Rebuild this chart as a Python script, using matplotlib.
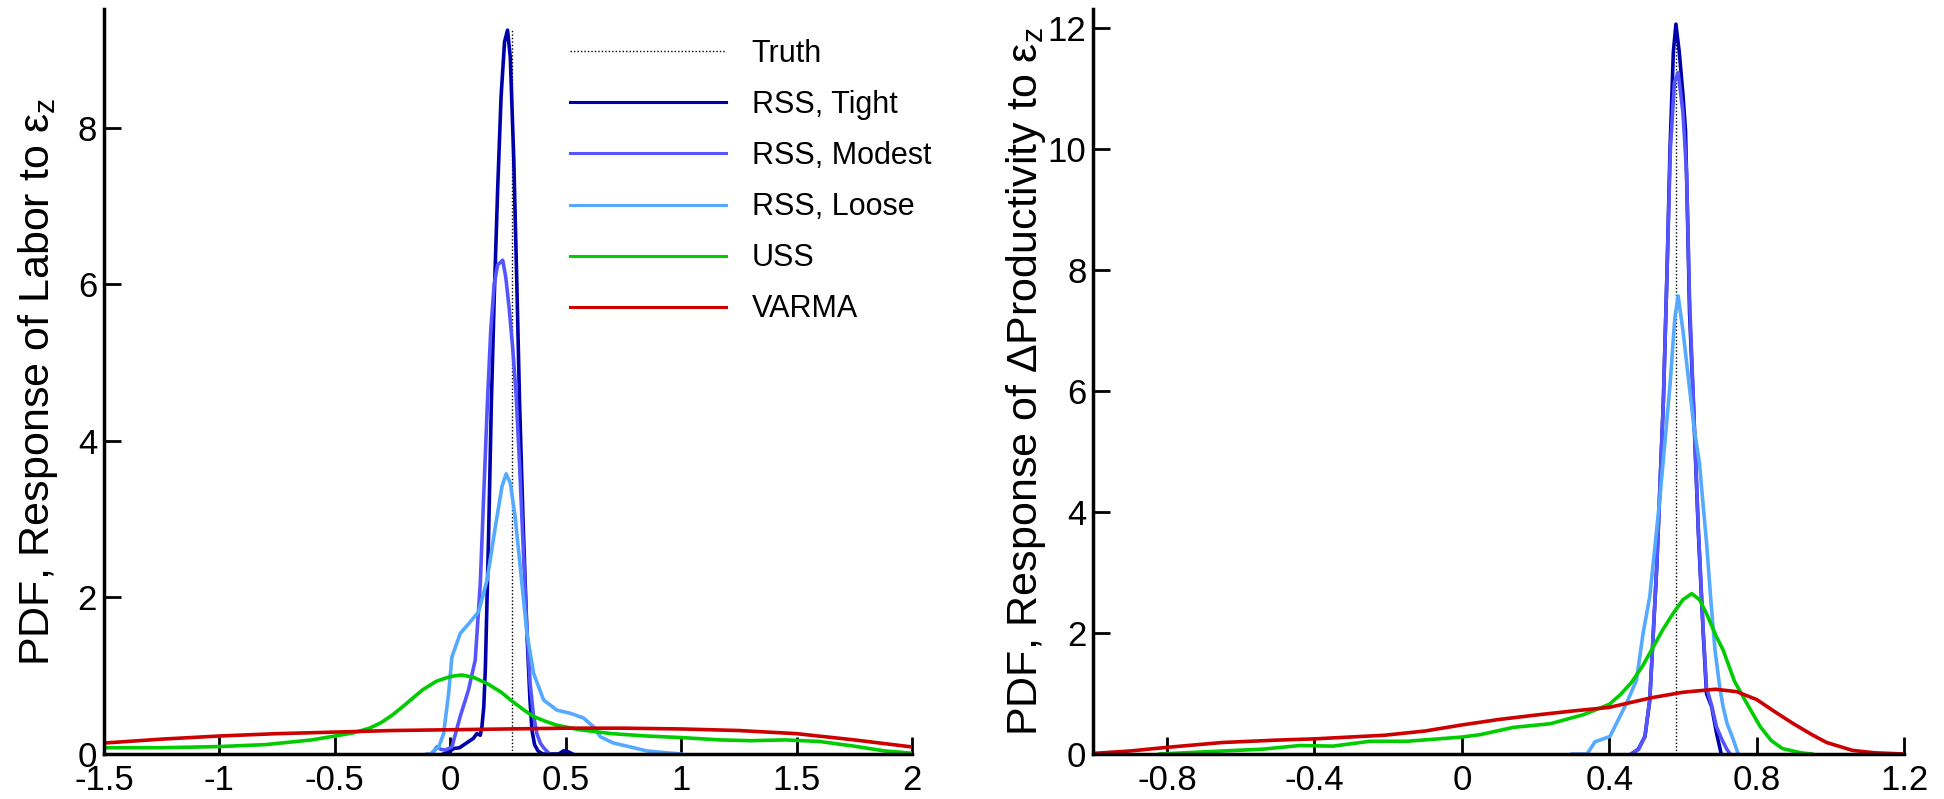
import matplotlib
matplotlib.use("Agg")
import matplotlib.pyplot as plt

plt.rcParams['font.family'] = ['Liberation Sans', 'DejaVu Sans']
plt.rcParams['mathtext.fontset'] = 'custom'
plt.rcParams['mathtext.rm'] = 'Liberation Sans'
plt.rcParams['mathtext.it'] = 'Liberation Sans'

SERIES = ["Truth", "RSS, Tight", "RSS, Modest", "RSS, Loose", "USS", "VARMA"]
COLORS = {"RSS, Tight": "#0000AA", "RSS, Modest": "#5555FF", "RSS, Loose": "#55AAFF",
          "USS": "#00CC00", "VARMA": "#CC0000"}

# ---------------- Left panel: Labor ----------------
L_TRUTH = 0.267
L_TRUTH_TOP = 9.25
L_TIGHT_X = [-0.03, 0.0, 0.015, 0.04, 0.07, 0.1, 0.115, 0.13, 0.137, 0.145, 0.152, 0.166, 0.178, 0.19,
             0.205, 0.22, 0.235, 0.248, 0.26, 0.275, 0.29, 0.3, 0.315, 0.332, 0.345, 0.354, 0.365, 0.38,
             0.4, 0.47, 0.49, 0.51, 0.53]
L_TIGHT_Y = [0.0, 0.04, 0.07, 0.08, 0.14, 0.2, 0.26, 0.24, 0.35, 0.6, 1.1, 2.8, 4.5, 5.8,
             7.2, 8.4, 9.1, 9.25, 8.9, 7.6, 5.8, 4.5, 3.0, 1.55, 0.7, 0.3, 0.12, 0.04,
             0.0, 0.0, 0.04, 0.03, 0.0]
L_MOD_X = [-0.08, -0.058, -0.04, -0.022, 0.007, 0.043, 0.079, 0.108, 0.13, 0.144, 0.161, 0.175, 0.19,
           0.205, 0.227, 0.24, 0.255, 0.27, 0.285, 0.3, 0.315, 0.33, 0.346, 0.36, 0.375, 0.39, 0.404, 0.43]
L_MOD_Y = [0.0, 0.09, 0.06, 0.05, 0.09, 0.48, 0.82, 1.2, 2.18, 3.25, 4.5, 5.4, 6.0,
           6.25, 6.31, 6.1, 5.7, 5.2, 4.6, 3.7, 2.7, 1.7, 0.9, 0.5, 0.26, 0.14, 0.08, 0.0]
L_LOOSE_X = [-0.1, -0.087, -0.05, -0.029, -0.007, 0.007, 0.043, 0.087, 0.123, 0.159, 0.195, 0.224,
             0.242, 0.26, 0.281, 0.303, 0.332, 0.361, 0.404, 0.462, 0.52, 0.577, 0.62, 0.65, 0.707,
             0.78, 0.85, 0.92, 1.0]
L_LOOSE_Y = [0.0, 0.0, 0.09, 0.26, 0.78, 1.24, 1.54, 1.69, 1.82, 2.22, 2.9, 3.42,
             3.58, 3.46, 3.03, 2.39, 1.54, 1.03, 0.69, 0.56, 0.52, 0.46, 0.35, 0.22, 0.14,
             0.09, 0.04, 0.02, 0.0]
L_USS_X = [-1.5, -1.25, -1.0, -0.8, -0.6, -0.5, -0.42, -0.35, -0.3, -0.25, -0.2, -0.12, -0.06, 0.0,
           0.05, 0.1, 0.16, 0.22, 0.27, 0.32, 0.36, 0.41, 0.46, 0.56, 0.7, 0.85, 1.0, 1.17, 1.3,
           1.45, 1.6, 1.75, 1.88, 2.0]
L_USS_Y = [0.08, 0.08, 0.095, 0.12, 0.18, 0.23, 0.27, 0.33, 0.4, 0.5, 0.62, 0.82, 0.93, 0.99,
           1.01, 0.98, 0.9, 0.79, 0.67, 0.56, 0.48, 0.42, 0.37, 0.31, 0.26, 0.23, 0.21, 0.18, 0.17,
           0.18, 0.16, 0.1, 0.04, 0.01]
L_VAR_X = [-1.5, -1.25, -1.0, -0.75, -0.5, -0.25, 0.0, 0.25, 0.5, 0.75, 1.0, 1.25, 1.5, 1.75, 2.0]
L_VAR_Y = [0.14, 0.19, 0.23, 0.26, 0.28, 0.3, 0.31, 0.32, 0.33, 0.33, 0.32, 0.3, 0.26, 0.18, 0.09]
L_XTICKS = [-1.5, -1, -0.5, 0, 0.5, 1, 1.5, 2]
L_XLABELS = ["-1.5", "-1", "-0.5", "0", "0.5", "1", "1.5", "2"]
L_YTICKS = [0, 2, 4, 6, 8]

# ---------------- Right panel: Productivity ----------------
R_TRUTH = 0.581
R_TRUTH_TOP = 12.06
R_TIGHT_X = [0.46, 0.479, 0.497, 0.51, 0.529, 0.547, 0.557, 0.565, 0.574, 0.581, 0.59, 0.6, 0.607,
             0.612, 0.618, 0.628, 0.642, 0.655, 0.664, 0.678, 0.691, 0.704]
R_TIGHT_Y = [0.0, 0.08, 0.29, 0.89, 3.1, 5.85, 8.0, 10.0, 11.6, 12.06, 11.6, 10.9, 10.3,
             9.0, 7.3, 5.85, 3.65, 2.0, 1.0, 0.78, 0.35, 0.0]
R_MOD_X = [0.46, 0.48, 0.497, 0.51, 0.529, 0.547, 0.557, 0.566, 0.577, 0.587, 0.6, 0.61, 0.618,
           0.628, 0.642, 0.655, 0.664, 0.678, 0.691, 0.705, 0.719, 0.728]
R_MOD_Y = [0.0, 0.08, 0.3, 0.9, 3.1, 5.85, 8.0, 10.0, 11.1, 11.26, 10.6, 9.6, 7.5,
           5.9, 3.7, 2.05, 1.1, 0.8, 0.45, 0.25, 0.08, 0.0]
R_LOOSE_X = [0.3, 0.34, 0.361, 0.379, 0.402, 0.424, 0.447, 0.474, 0.492, 0.51, 0.537, 0.565, 0.578,
             0.587, 0.6, 0.615, 0.63, 0.645, 0.655, 0.664, 0.675, 0.687, 0.7, 0.709, 0.72, 0.736, 0.75]
R_LOOSE_Y = [0.0, 0.0, 0.2, 0.24, 0.29, 0.56, 0.84, 1.22, 2.0, 2.6, 4.2, 6.1, 7.2,
             7.57, 7.0, 6.2, 5.4, 4.8, 4.1, 3.5, 2.6, 1.72, 1.1, 0.78, 0.5, 0.25, 0.0]
R_USS_X = [-0.82, -0.65, -0.54, -0.44, -0.35, -0.25, -0.15, 0.0, 0.05, 0.14, 0.24, 0.33, 0.40, 0.43,
           0.46, 0.49, 0.515, 0.545, 0.573, 0.6, 0.624, 0.645, 0.664, 0.69, 0.709, 0.74, 0.775,
           0.81, 0.84, 0.87, 0.92, 0.95]
R_USS_Y = [0.0, 0.05, 0.08, 0.14, 0.13, 0.21, 0.21, 0.28, 0.32, 0.44, 0.5, 0.65, 0.82, 0.98,
           1.18, 1.45, 1.72, 2.05, 2.32, 2.55, 2.65, 2.55, 2.32, 1.95, 1.72, 1.2, 0.82,
           0.45, 0.22, 0.09, 0.02, 0.0]
R_VAR_X = [-1.0, -0.9, -0.8, -0.65, -0.5, -0.4, -0.21, -0.1, 0.0, 0.1, 0.21, 0.3, 0.4, 0.515, 0.6,
           0.688, 0.746, 0.8, 0.854, 0.9, 0.95, 0.99, 1.06, 1.12, 1.2]
R_VAR_Y = [0.01, 0.05, 0.11, 0.19, 0.23, 0.25, 0.31, 0.38, 0.48, 0.57, 0.65, 0.71, 0.77, 0.93, 1.02,
           1.07, 1.03, 0.9, 0.68, 0.5, 0.32, 0.19, 0.06, 0.02, 0.0]
R_XTICKS = [-0.8, -0.4, 0, 0.4, 0.8, 1.2]
R_XLABELS = ["-0.8", "-0.4", "0", "0.4", "0.8", "1.2"]
R_YTICKS = [0, 2, 4, 6, 8, 10, 12]

W, H = 1944, 799
fig = plt.figure(figsize=(W / 100, H / 100), dpi=100)
axL = fig.add_axes([104 / W, 45 / H, 808 / W, 745 / H])
axR = fig.add_axes([1093.4 / W, 45 / H, 810.6 / W, 745 / H])

LW = 2.6
FS = 25


def draw(ax, truth, ttop, curves, xlim, ylim, xticks, xlabels, yticks, ylabel, lab_x):
    lines = []
    lt, = ax.plot([truth, truth], [0, ttop], color='black', linestyle=(0, (1, 1.5)), lw=1.0,
                  label="Truth")
    lines.append(lt)
    for name, xs, ys in curves:
        l, = ax.plot(xs, ys, color=COLORS[name], lw=LW, label=name, solid_joinstyle='round')
        lines.append(l)
    ax.set_xlim(*xlim)
    ax.set_ylim(*ylim)
    ax.set_xticks(xticks)
    ax.set_xticklabels(xlabels)
    ax.set_yticks(yticks)
    for s in ['top', 'right']:
        ax.spines[s].set_visible(False)
    for s in ['left', 'bottom']:
        ax.spines[s].set_linewidth(2.5)
    ax.tick_params(direction='in', length=12, width=2, labelsize=FS)
    ax.tick_params(axis='x', pad=7)
    ax.tick_params(axis='y', pad=5)
    ax.set_ylabel(ylabel, fontsize=31)
    ax.yaxis.set_label_coords(lab_x, 0.5)
    return lines


linesL = draw(axL, L_TRUTH, L_TRUTH_TOP,
              [("RSS, Tight", L_TIGHT_X, L_TIGHT_Y), ("RSS, Modest", L_MOD_X, L_MOD_Y),
               ("RSS, Loose", L_LOOSE_X, L_LOOSE_Y), ("USS", L_USS_X, L_USS_Y),
               ("VARMA", L_VAR_X, L_VAR_Y)],
              (-1.5, 2), (0, 9.52), L_XTICKS, L_XLABELS, L_YTICKS,
              'PDF, Response of Labor to ε$_\\mathregular{z}$', -0.0545)

draw(axR, R_TRUTH, R_TRUTH_TOP,
     [("RSS, Tight", R_TIGHT_X, R_TIGHT_Y), ("RSS, Modest", R_MOD_X, R_MOD_Y),
      ("RSS, Loose", R_LOOSE_X, R_LOOSE_Y), ("USS", R_USS_X, R_USS_Y),
      ("VARMA", R_VAR_X, R_VAR_Y)],
     (-1.0, 1.2), (0, 12.31), R_XTICKS, R_XLABELS, R_YTICKS,
     'PDF, Response of ΔProductivity to ε$_\\mathregular{z}$', -0.056)

leg = axL.legend(handles=linesL, labels=SERIES, loc='upper left',
                 bbox_to_anchor=(570 / W, 1 - 39 / H), bbox_transform=fig.transFigure,
                 frameon=False, fontsize=22, handlelength=5.1, handletextpad=0.85,
                 labelspacing=0.69, borderpad=0, borderaxespad=0)
for hl in leg.get_lines()[1:]:
    hl.set_linewidth(2.2)

fig.savefig("out.png", dpi=100)
